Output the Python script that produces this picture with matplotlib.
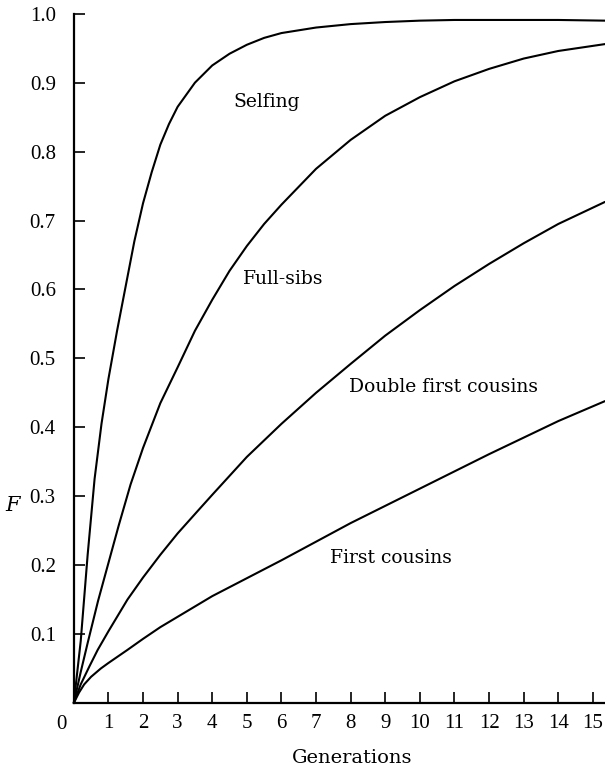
import matplotlib
matplotlib.use("Agg")
import matplotlib.pyplot as plt

plt.rcParams['font.family'] = ['Liberation Serif', 'DejaVu Serif']

# Data (generation, inbreeding coefficient F)
selfing_t = [0, 0.2, 0.4, 0.6, 0.8, 1.0, 1.25, 1.5, 1.75, 2.0, 2.25, 2.5, 2.75, 3.0,
             3.5, 4.0, 4.5, 5.0, 5.5, 6.0, 7.0, 8.0, 9.0, 10, 11, 12, 13, 14, 15.35]
selfing_F = [0, 0.09, 0.215, 0.325, 0.405, 0.47, 0.54, 0.605, 0.67, 0.725, 0.77, 0.81,
             0.84, 0.865, 0.90, 0.925, 0.942, 0.955, 0.965, 0.972, 0.98, 0.985, 0.988,
             0.99, 0.991, 0.991, 0.991, 0.991, 0.99]

fullsib_t = [0, 0.2, 0.4, 0.7, 1.0, 1.3, 1.64, 2.0, 2.5, 3.0, 3.5, 4.0, 4.5, 5.0, 5.5,
             6.0, 7.0, 8.0, 9.0, 10, 11, 12, 13, 14, 15.35]
fullsib_F = [0, 0.045, 0.087, 0.148, 0.203, 0.258, 0.317, 0.37, 0.435, 0.487, 0.54,
             0.585, 0.627, 0.663, 0.695, 0.723, 0.775, 0.817, 0.852, 0.879, 0.902, 0.92,
             0.935, 0.946, 0.956]

dfc_t = [0, 0.2, 0.45, 0.69, 1.0, 1.55, 2.0, 2.5, 3.0, 3.57, 4.0, 5.0, 6.0, 7.0, 8.0,
         9.0, 10, 11, 12, 13, 14, 15.35]
dfc_F = [0, 0.027, 0.053, 0.077, 0.104, 0.15, 0.182, 0.215, 0.246, 0.278, 0.302, 0.357,
         0.405, 0.45, 0.492, 0.533, 0.57, 0.605, 0.637, 0.667, 0.695, 0.727]

fc_t = [0, 0.15, 0.3, 0.5, 0.78, 1.0, 1.55, 2.0, 2.5, 3.0, 4.0, 5.0, 6.0, 7.0, 8.0,
        9.0, 10, 11, 12, 13, 14, 15.35]
fc_F = [0, 0.015, 0.027, 0.038, 0.05, 0.058, 0.077, 0.093, 0.11, 0.125, 0.155, 0.181,
        0.207, 0.234, 0.261, 0.286, 0.311, 0.336, 0.361, 0.385, 0.409, 0.438]

y_ticks = [0.1, 0.2, 0.3, 0.4, 0.5, 0.6, 0.7, 0.8, 0.9, 1.0]
x_ticks = list(range(1, 16))

labels = ["Selfing", "Full-sibs", "Double first cousins", "First cousins"]
label_pos = [(4.6, 0.872), (4.9, 0.615), (7.95, 0.459), (7.4, 0.210)]

fig = plt.figure(figsize=(6.05, 7.73), dpi=100)
ax = fig.add_axes([0.122, 0.0906, 0.878, 0.8916])

for t, F in [(selfing_t, selfing_F), (fullsib_t, fullsib_F), (dfc_t, dfc_F), (fc_t, fc_F)]:
    ax.plot(t, F, color='black', lw=1.5, solid_capstyle='round',
            solid_joinstyle='round', clip_on=False)

ax.set_xlim(0, 15.35)
ax.set_ylim(0, 1.0)
for s in ['top', 'right']:
    ax.spines[s].set_visible(False)
for s in ['left', 'bottom']:
    ax.spines[s].set_linewidth(1.6)

ax.set_yticks(y_ticks)
ax.set_yticklabels([f"{v:.1f}" for v in y_ticks], fontsize=15)
ax.set_xticks(x_ticks)
ax.set_xticklabels([str(v) for v in x_ticks], fontsize=15)
ax.tick_params(axis='both', direction='in', length=8, width=1.2)
ax.tick_params(axis='x', pad=8)
ax.tick_params(axis='y', pad=13)

ax.annotate("0", xy=(0, 0), xytext=(-12, -12), textcoords='offset pixels',
            ha='center', va='top', fontsize=15)

for lab, (x, y) in zip(labels, label_pos):
    ax.text(x, y, lab, fontsize=13.5, ha='left', va='center', family='DejaVu Serif')

ax.text(-0.115, 0.287, "F", transform=ax.transAxes, fontsize=15, style='italic',
        ha='center', va='center', family='DejaVu Serif')
fig.text(352 / 605, 1 - 758 / 773, "Generations", fontsize=14, ha='center',
         va='center', family='DejaVu Serif')

fig.savefig("out.png", dpi=100)
